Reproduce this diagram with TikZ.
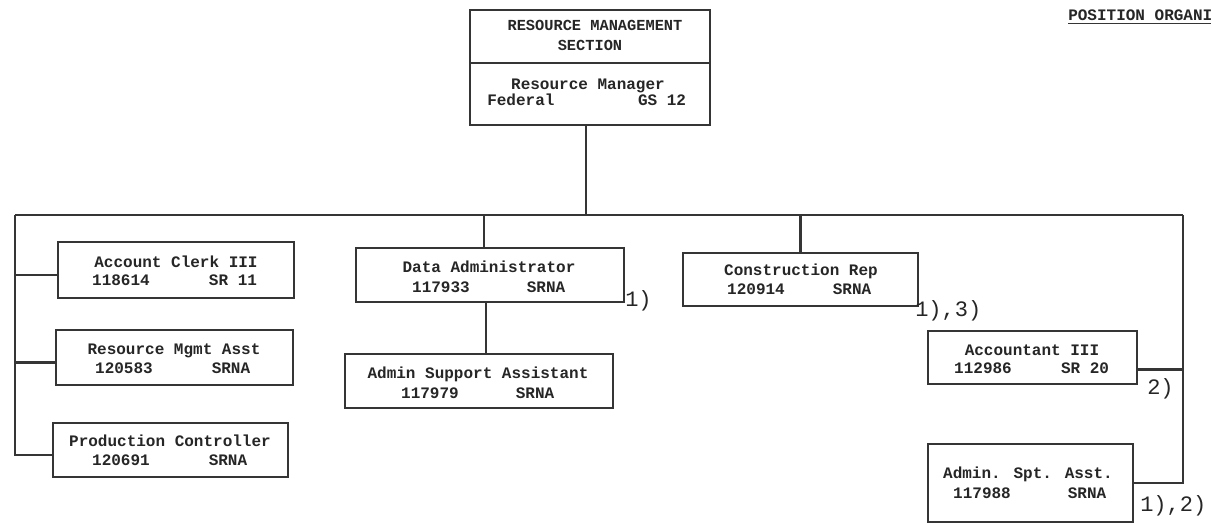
\documentclass[tikz,border=0pt]{standalone}
\usepackage{fontspec}
\setmainfont{Liberation Mono}
\definecolor{ink}{HTML}{353535}
\definecolor{txt}{HTML}{262626}
\begin{document}
\begin{tikzpicture}[x=0.75pt,y=-0.75pt,
  box/.style={draw=ink, line width=1.6pt, inner sep=0pt, outer sep=0pt, rectangle},
  link/.style={draw=ink, line width=1.6pt},
  ttl/.style={font=\bfseries\fontsize{12}{14}\selectfont, text=txt, inner sep=0pt, anchor=base},
  hdr/.style={font=\bfseries\fontsize{11.5}{14}\selectfont, text=txt, inner sep=0pt, anchor=base},
  note/.style={font=\fontsize{16.5}{18}\selectfont, text=txt, inner sep=0pt, anchor=base west}]
\fill[white] (0,0) rectangle (1211,525);
\useasboundingbox (0,0) rectangle (1211,525);

% title at top right
\node[ttl, anchor=base west] (pos) at (1068,20) {POSITION ORGANI};
\draw[link, line width=1pt] ([yshift=-2.5pt]pos.base west) -- ([yshift=-2.5pt]pos.base east);

% top box
\node[box, minimum width=180pt, minimum height=39.75pt] (sec) at (590,36.5) {};
\node[box, minimum width=180pt, minimum height=46.5pt] (mgr) at (590,94) {};
\node[hdr] (sec1) at (595,30) {RESOURCE MANAGEMENT};
\node[hdr] (sec2) at (590,50) {SECTION};
\node[ttl] (mgr1) at (588,89) {Resource Manager};
\node[ttl, anchor=base west] (mgr2) at (487,105) {Federal};
\node[ttl] (mgr3) at (662,105) {GS 12};

% boxes
\node[box, minimum width=177pt, minimum height=42pt] (acc) at (176,270) {};
\node[box, minimum width=177.75pt, minimum height=41.25pt] (rma) at (174.5,357.5) {};
\node[box, minimum width=176.25pt, minimum height=40.5pt] (pc) at (170.5,450) {};
\node[box, minimum width=201pt, minimum height=40.5pt] (da) at (490,275) {};
\node[box, minimum width=201pt, minimum height=40.5pt] (asa) at (479,381) {};
\node[box, minimum width=176.25pt, minimum height=39.75pt] (cr) at (800.5,279.5) {};
\node[box, minimum width=156.75pt, minimum height=39.75pt] (acct) at (1032.5,357.5) {};
\node[box, minimum width=153.75pt, minimum height=58.5pt] (asp) at (1030.5,483) {};

% box texts
\node[ttl] (acc1) at (176,267) {Account Clerk III};
\node[ttl] (acc2) at (121,285) {118614};
\node[ttl] (acc3) at (233,285) {SR 11};
\node[ttl] (rma1) at (174,354) {Resource Mgmt Asst};
\node[ttl] (rma2) at (124,373) {120583};
\node[ttl] (rma3) at (231,373) {SRNA};
\node[ttl] (pc1) at (170,446) {Production Controller};
\node[ttl] (pc2) at (121,465) {120691};
\node[ttl] (pc3) at (228,465) {SRNA};
\node[ttl] (da1) at (489,272) {Data Administrator};
\node[ttl] (da2) at (441,292) {117933};
\node[ttl] (da3) at (546,292) {SRNA};
\node[ttl] (asa1) at (478,378) {Admin Support Assistant};
\node[ttl] (asa2) at (430,398) {117979};
\node[ttl] (asa3) at (535,398) {SRNA};
\node[ttl] (cr1) at (801,275) {Construction Rep};
\node[ttl] (cr2) at (756,294) {120914};
\node[ttl] (cr3) at (852,294) {SRNA};
\node[ttl] (acct1) at (1032,355) {Accountant III};
\node[ttl] (acct2) at (983,373) {112986};
\node[ttl] (acct3) at (1085,373) {SR 20};
\node[ttl] (asp1) at (1028,478) {Admin. Spt. Asst.};
\node[ttl] (asp2) at (982,498) {117988};
\node[ttl] (asp3) at (1087,498) {SRNA};

% footnote marks
\node[note] (n1) at (625,306) {1)};
\node[note] (n2) at (915,316) {1),3)};
\node[note] (n3) at (1147,394) {2)};
\node[note] (n4) at (1140,511) {1),2)};

% connectors
\coordinate (bl) at (15,215);
\coordinate (br) at (1183,215);
\draw[link] (bl) -- (br);
\draw[link] ([xshift=-3pt]mgr.south) -- ([xshift=-3pt]mgr.south |- bl);
\draw[link] (bl) |- ([yshift=-3.75pt]pc.west);
\draw[link] ([yshift=-3.75pt]acc.west) -- ([yshift=-3.75pt]acc.west -| bl);
\draw[link] ([yshift=-3.75pt]rma.west) -- ([yshift=-3.75pt]rma.west -| bl);
\draw[link] ([xshift=-4.5pt]da.north) -- ([xshift=-4.5pt]da.north |- bl);
\draw[link] ([xshift=-3pt]da.south) -- ([xshift=-3pt]da.south |- asa.north);
\draw[link] (cr.north) -- (cr.north |- bl);
\draw[link] (br) |- (asp.east);
\draw[link] ([yshift=-9pt]acct.east) -- ([yshift=-9pt]acct.east -| br);
\end{tikzpicture}
\end{document}
